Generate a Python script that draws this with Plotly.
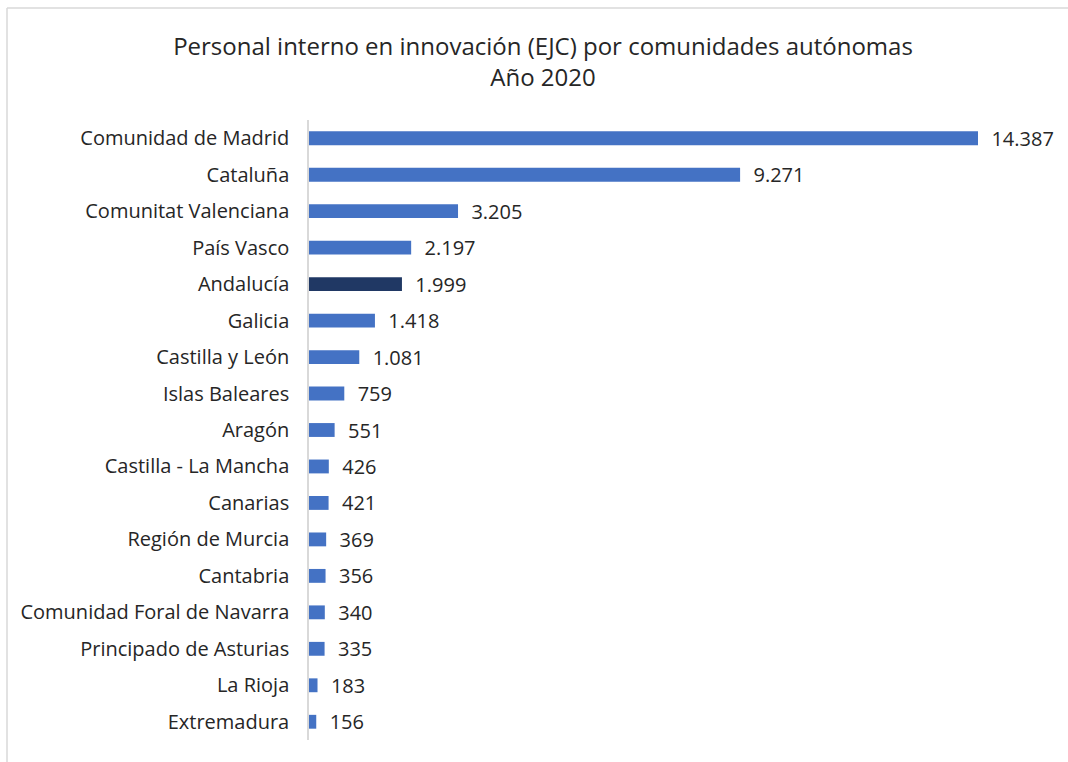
import plotly.graph_objects as go

regions = ["Comunidad de Madrid", "Cataluña", "Comunitat Valenciana", "País Vasco",
           "Andalucía", "Galicia", "Castilla y León", "Islas Baleares", "Aragón",
           "Castilla - La Mancha", "Canarias", "Región de Murcia", "Cantabria",
           "Comunidad Foral de Navarra", "Principado de Asturias", "La Rioja", "Extremadura"]
values = [14387, 9271, 3205, 2197, 1999, 1418, 1081, 759, 551, 426, 421, 369, 356, 340, 335, 183, 156]
highlight = "Andalucía"

colors = ["#203864" if r == highlight else "#4472C4" for r in regions]

fig = go.Figure(go.Bar(
    x=values, y=regions, orientation="h",
    marker=dict(color=colors, line=dict(width=0)),
    text=values, texttemplate="  %{x:,}", textposition="outside",
    constraintext="none",
    textfont=dict(family="Open Sans", size=20, color="#262626"),
    cliponaxis=False, width=0.38,
))

W, H = 1068, 762
L, R, T, B = 309, 15, 120, 22
pw, ph = W - L - R, H - T - B

def px(xp):
    return (xp - L) / pw

def py(yp):
    return (H - B - yp) / ph

fig.update_layout(
    width=W, height=H,
    margin=dict(l=L, r=R, t=T, b=B),
    paper_bgcolor="white", plot_bgcolor="white",
    separators=",.",
    showlegend=False,
    title=dict(text="Personal interno en innovación (EJC) por comunidades autónomas<br>Año 2020",
               x=px(543), xref="paper", xanchor="center", y=1 - 55 / H, yanchor="middle",
               font=dict(family="Open Sans", size=24, color="#262626")),
    xaxis=dict(range=[0, 16000], visible=False, showgrid=False, zeroline=False),
    yaxis=dict(autorange="reversed", showline=True, linecolor="#d9d9d9", linewidth=1.5,
               showgrid=False, ticks="", ticklabelstandoff=14,
               tickfont=dict(family="Open Sans", size=20, color="#262626")),
    shapes=[
        dict(type="line", xref="paper", yref="paper", x0=px(7), x1=px(1068), y0=py(8), y1=py(8),
             line=dict(color="#d9d9d9", width=1.5)),
        dict(type="line", xref="paper", yref="paper", x0=px(7), x1=px(7), y0=py(8), y1=py(762),
             line=dict(color="#d9d9d9", width=1.5)),
    ],
)

fig.write_html("out.html", config={"displayModeBar": False},
               post_script="document.body.style.margin='0';document.body.style.overflow='hidden';")
